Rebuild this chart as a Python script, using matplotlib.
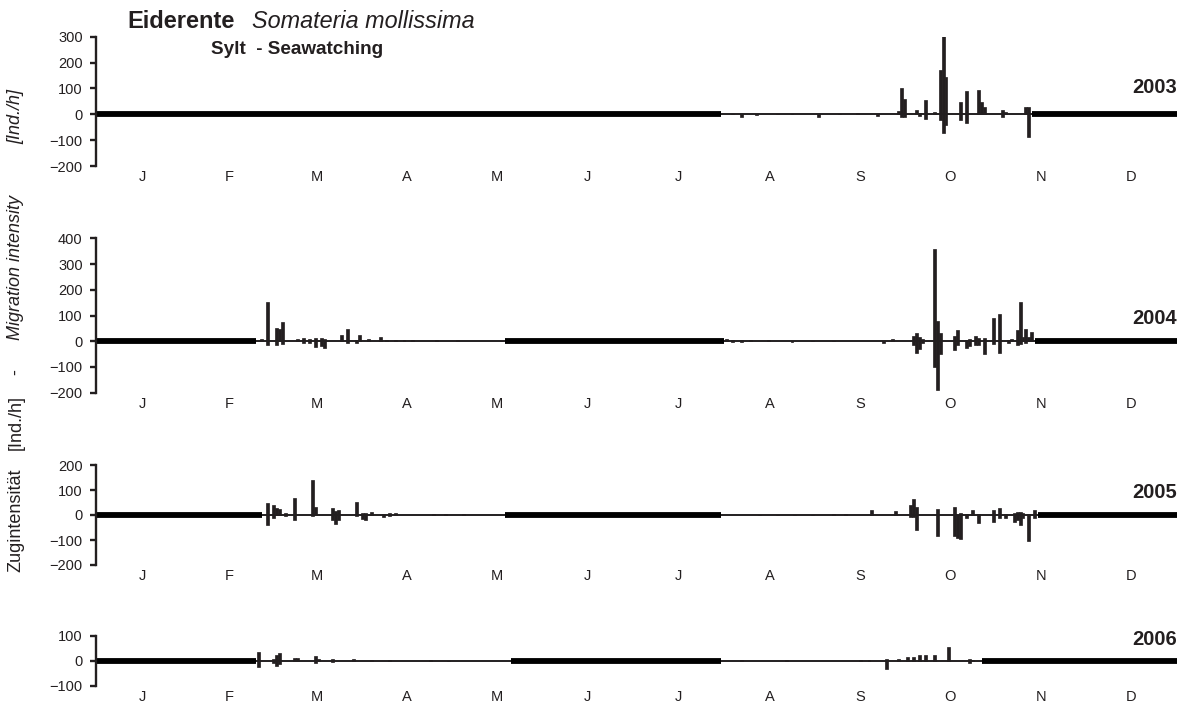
import matplotlib
matplotlib.use("Agg")
import matplotlib.pyplot as plt
import numpy as np

plt.rcParams['font.family'] = ['Liberation Sans', 'DejaVu Sans']

# ---------------- data ----------------
month_labels = ['J', 'F', 'M', 'A', 'M', 'J', 'J', 'A', 'S', 'O', 'N', 'D']
month_days = [31, 28, 31, 30, 31, 30, 31, 31, 30, 31, 30, 31]
years = ['2003', '2004', '2005', '2006']

# observation periods (day of year) - outside these: no observation (thick line)
obs_2003 = [(211, 316)]
obs_2004 = [(54, 138), (212, 317)]
obs_2005 = [(56, 138), (211, 318)]
obs_2006 = [(54, 140), (211, 299)]

# daily migration intensity: day, positive part, negative part [Ind./h]
day_2003 = [215, 218, 223, 230, 235, 244, 251, 257, 264, 271, 272, 273, 277, 278, 280, 283,
            285, 286, 287, 292, 294, 298, 299, 300, 306, 307, 314, 315]
pos_2003 = [3, 0, 2, 2, 2, 0, 2, 5, 0, 14, 100, 58, 16, 5, 55, 8,
            171, 306, 145, 49, 90, 94, 49, 27, 16, 8, 27, 30]
neg_2003 = [0, -10, -3, 0, 0, -10, 0, 0, -5, 0, -12, -12, 0, -8, -19, 0,
            -22, -73, -41, -22, -32, 0, 0, 0, -10, 0, 0, -86]

day_2004 = [56, 58, 61, 62, 63, 68, 70, 72, 74, 76, 77, 83, 85, 88, 89, 92, 96, 98, 101, 104,
            107, 115, 122, 137,
            213, 215, 218, 221, 227, 235, 242, 249, 266, 269, 276, 277, 278, 279, 283, 284, 285,
            290, 291, 294, 295, 297, 298, 300, 303, 305, 308, 309, 311, 312, 313, 314, 315, 316]
pos_2004 = [10, 153, 52, 48, 75, 10, 12, 10, 14, 12, 8, 26, 47, 5, 26, 10, 18, 5, 4, 3,
            5, 5, 3, 2,
            8, 5, 4, 4, 3, 0, 2, 2, 0, 8, 19, 32, 15, 8, 360, 79, 32,
            19, 43, 4, 10, 19, 14, 14, 92, 105, 5, 8, 43, 153, 17, 47, 15, 36]
neg_2004 = [0, -15, -15, 0, -10, 0, -8, -8, -22, -18, -28, 0, -8, -8, 0, 0, 0, 0, 0, 0,
            0, 0, 0, 0,
            0, -3, -3, 0, 0, -3, 0, 0, -5, 0, -15, -45, -30, -5, -100, -190, -50,
            -35, -15, -28, -20, -15, -15, -50, -10, -45, -5, 0, -15, -10, 0, -8, 0, 0]

day_2005 = [58, 60, 61, 62, 64, 67, 73, 74, 80, 81, 82, 88, 90, 91, 93, 97, 99, 101, 114, 118, 124,
            224, 230, 236, 242, 249, 253, 262, 270, 275, 276, 277, 284, 290, 291, 292, 294, 296,
            298, 303, 305, 307, 310, 311, 312, 313, 315, 317]
pos_2005 = [47, 40, 30, 23, 8, 67, 140, 33, 29, 15, 20, 53, 8, 10, 12, 5, 8, 8, 3, 3, 3,
            2, 2, 2, 2, 3, 3, 20, 17, 40, 63, 33, 23, 31, 0, 10, 5, 20,
            5, 20, 27, 5, 10, 12, 12, 8, 5, 20]
neg_2005 = [-40, -12, 0, 0, -5, -20, -5, 0, -20, -36, -20, -5, -15, -20, 0, -8, -5, 0, 0, 0, 0,
            0, 0, 0, 0, 0, 0, 0, 0, -8, -8, -60, -84, -84, -93, -97, -10, 0,
            -31, -27, -10, -10, -27, -20, -40, -10, -104, -10]

day_2006 = [55, 60, 61, 62, 67, 68, 74, 75, 80, 87, 93, 99, 113, 119,
            218, 233, 258, 261, 267, 271, 274, 276, 278, 280, 283, 288, 295, 296]
pos_2006 = [36, 5, 22, 29, 10, 12, 18, 8, 5, 5, 3, 2, 2, 0,
            2, 2, 3, 3, 5, 8, 14, 16, 24, 24, 23, 56, 5, 3]
neg_2006 = [-27, -10, -20, -12, 0, 0, -8, 0, -5, -3, 0, 0, 0, -2,
            0, 0, 0, 0, -33, 0, 0, 0, 0, 0, 0, 0, -8, 0]

panels = [
    ('2003', obs_2003, day_2003, pos_2003, neg_2003, (-200, 300)),
    ('2004', obs_2004, day_2004, pos_2004, neg_2004, (-200, 400)),
    ('2005', obs_2005, day_2005, pos_2005, neg_2005, (-200, 200)),
    ('2006', obs_2006, day_2006, pos_2006, neg_2006, (-100, 100)),
]

# ---------------- layout ----------------
W, H = 1186, 705
fig = plt.figure(figsize=(W / 100, H / 100), dpi=100)
left_px, right_px = 96, 1177
boxes = [(36.7, 166), (238.3, 392.7), (465, 565), (635.7, 685.7)]
year_offsets = [27, 23, 23, 21]

ink = '#231f20'
month_edges = np.concatenate([[0], np.cumsum(month_days)])
month_mid = (month_edges[:-1] + month_edges[1:]) / 2.0
year_len = month_edges[-1]

for (year, obs, days, pos, neg, ylim), (top, bottom), yoff in zip(panels, boxes, year_offsets):
    ax = fig.add_axes([left_px / W, 1 - bottom / H, (right_px - left_px) / W, (bottom - top) / H])
    ax.set_xlim(0, year_len)
    ax.set_ylim(*ylim)
    edges = [0]
    for s, e in obs:
        edges += [s, e]
    edges.append(year_len)
    for i in range(0, len(edges), 2):
        ax.hlines(0, edges[i], edges[i + 1], color='black', lw=4.2, zorder=2)
    for s, e in obs:
        ax.hlines(0, s, e, color=ink, lw=1.4, zorder=2)
    ax.bar(days, pos, width=1.0, color=ink, edgecolor=ink, linewidth=0.5, zorder=3)
    ax.bar(days, neg, width=1.0, color=ink, edgecolor=ink, linewidth=0.5, zorder=3)

    for sp in ['top', 'right', 'bottom']:
        ax.spines[sp].set_visible(False)
    ax.spines['left'].set_linewidth(1.7)
    ax.spines['left'].set_color(ink)
    ax.set_yticks(np.arange(ylim[0], ylim[1] + 1, 100))
    ax.tick_params(axis='y', direction='out', length=4.3, width=1.7, pad=5.3,
                   labelsize=10.5, color=ink, labelcolor=ink)
    ax.set_xticks(month_mid)
    ax.set_xticklabels(month_labels)
    ax.tick_params(axis='x', length=0, pad=3, labelsize=10.5, labelcolor=ink)
    ax.patch.set_alpha(0)
    ax.annotate(year, xy=(1, 0), xycoords=('axes fraction', 'data'),
                xytext=(0, yoff), textcoords='offset pixels', ha='right', va='center',
                fontsize=14.5, fontweight='bold', color=ink)

# titles
fig.text(127 / W, 1 - 22 / H, 'Eiderente', fontsize=17, fontweight='bold',
         va='center', ha='left', color=ink)
fig.text(252 / W, 1 - 22 / H, 'Somateria mollissima', fontsize=16.8, style='italic',
         va='center', ha='left', color=ink)
fig.text(211 / W, 1 - 49 / H, 'Sylt  - Seawatching', fontsize=13.6, fontweight='bold',
         va='center', ha='left', color=ink)

# y label (regular German part, italic English part) - pieces centred along the axis
ylab_x = 16 / W
ylab_fs = 13
fig.text(ylab_x, 1 - 572 / H, 'Zugintensität', rotation=90,
         va='bottom', ha='center', fontsize=ylab_fs, color=ink)
fig.text(ylab_x, 1 - 422 / H, '[Ind./h]', rotation=90,
         va='center', ha='center', fontsize=ylab_fs, color=ink)
fig.text(ylab_x, 1 - 372 / H, '-', rotation=90,
         va='center', ha='center', fontsize=ylab_fs, color=ink)
fig.text(ylab_x, 1 - 267 / H, 'Migration intensity', rotation=90,
         va='center', ha='center', fontsize=ylab_fs, style='italic', color=ink)
fig.text(ylab_x, 1 - 117 / H, '[Ind./h]', rotation=90,
         va='center', ha='center', fontsize=ylab_fs, style='italic', color=ink)

fig.savefig('out.png', dpi=100)
